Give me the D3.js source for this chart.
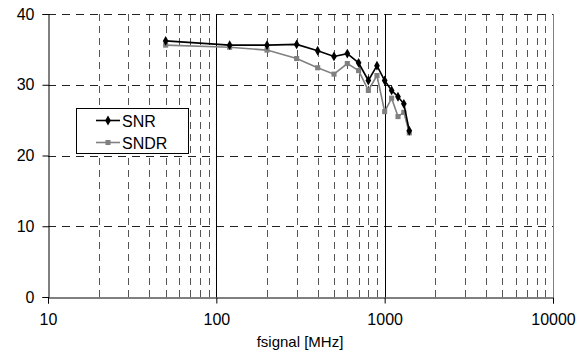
<!DOCTYPE html>
<html>
<head>
<meta charset="utf-8">
<script src="https://cdn.jsdelivr.net/npm/d3@7.9.0/dist/d3.min.js"></script>
<style>
  body { margin: 0; background: #fff; }
  svg { display: block; font-family: "Liberation Sans", Arial, sans-serif; }
</style>
</head>
<body>
<svg id="chart" width="584" height="352"></svg>
<script>
// frequencies in MHz
const freqs = [50, 120, 200, 300, 400, 500, 600, 700, 800, 900, 1000, 1100, 1200, 1300, 1400];
const snr  = [36.2, 35.6, 35.6, 35.7, 34.8, 34.0, 34.4, 33.1, 30.6, 32.7, 30.6, 29.2, 28.3, 27.3, 23.5];
const sndr = [35.6, 35.3, 34.9, 33.7, 32.4, 31.5, 33.0, 32.0, 29.2, 31.3, 26.2, 28.1, 25.5, 26.1, 23.2];
const xTicks = [10, 100, 1000, 10000];
const yTicks = [0, 10, 20, 30, 40];

const svg = d3.select('#chart');
const x = d3.scaleLog().domain([10, 10000]).range([48, 553]);
const y = d3.scaleLinear().domain([0, 40]).range([297, 14]);

// minor vertical grid (dashed)
const minor = [];
for (let dec = 10; dec < 10000; dec *= 10) {
  for (let k = 2; k <= 9; k++) minor.push(dec * k);
}
svg.append('g').selectAll('line').data(minor).join('line')
  .attr('x1', d => Math.round(x(d)) + 0.5).attr('x2', d => Math.round(x(d)) + 0.5)
  .attr('y1', y(40)).attr('y2', y(0))
  .attr('stroke', '#555').attr('stroke-dasharray', '7,5');

// horizontal grid (dashed)
svg.append('g').selectAll('line').data(yTicks.filter(d => d > 0)).join('line')
  .attr('x1', x(10)).attr('x2', x(10000))
  .attr('y1', d => Math.round(y(d)) + 0.5).attr('y2', d => Math.round(y(d)) + 0.5)
  .attr('stroke', '#222').attr('stroke-dasharray', '8,6');

// major vertical grid (solid)
svg.append('g').selectAll('line').data([100, 1000]).join('line')
  .attr('x1', d => Math.round(x(d)) + 0.5).attr('x2', d => Math.round(x(d)) + 0.5)
  .attr('y1', y(40)).attr('y2', y(0))
  .attr('stroke', '#000');

// right border
svg.append('line')
  .attr('x1', Math.round(x(10000)) + 0.5).attr('x2', Math.round(x(10000)) + 0.5)
  .attr('y1', y(40)).attr('y2', y(0))
  .attr('stroke', '#808080');

// axes
const xAxis = d3.axisBottom(x).tickValues(xTicks).tickFormat(d3.format('d')).tickSize(6).tickPadding(10);
const gx = svg.append('g').attr('transform', `translate(0,${Math.round(y(0)) + 0.5})`).call(xAxis);
const yAxis = d3.axisLeft(y).tickValues(yTicks).tickSize(6).tickPadding(8);
const gy = svg.append('g').attr('transform', `translate(${Math.round(x(10)) + 0.5},0)`).call(yAxis);
[gx, gy].forEach(g => {
  g.select('.domain').attr('stroke', '#000');
  g.selectAll('.tick line').attr('stroke', '#000');
  g.selectAll('text').attr('font-size', 16).attr('fill', '#000').attr('font-family', '"Liberation Sans", Arial, sans-serif');
});
gx.selectAll('.tick line').attr('transform', null);

svg.append('text')
  .attr('x', 300).attr('y', 347)
  .attr('text-anchor', 'middle').attr('font-size', 15)
  .text('fsignal [MHz]');

// series
const series = [
  { name: 'SNR', values: snr, color: '#000', shape: d3.symbolDiamond },
  { name: 'SNDR', values: sndr, color: '#808080', shape: d3.symbolSquare }
];
const line = d3.line().x(d => x(d[0])).y(d => y(d[1]));

series.slice().reverse().forEach(s => {
  const pts = freqs.map((f, i) => [f, s.values[i]]);
  svg.append('path').datum(pts)
    .attr('d', line).attr('fill', 'none')
    .attr('stroke', s.color).attr('stroke-width', 1.6);
  svg.append('g').selectAll('path').data(pts).join('path')
    .attr('transform', d => `translate(${x(d[0])},${y(d[1])})`)
    .attr('d', d3.symbol().type(s.shape).size(s.shape === d3.symbolSquare ? 26 : 28))
    .attr('fill', s.color);
});

// legend
const lg = svg.append('g');
lg.append('rect').attr('x', 76.5).attr('y', 108.5).attr('width', 112).attr('height', 45)
  .attr('fill', '#fff').attr('stroke', '#000');
series.forEach((s, i) => {
  const yy = 120.5 + i * 22;
  lg.append('line').attr('x1', 96).attr('x2', 120).attr('y1', yy).attr('y2', yy)
    .attr('stroke', s.color).attr('stroke-width', 1.6);
  lg.append('path').attr('transform', `translate(108,${yy})`)
    .attr('d', d3.symbol().type(s.shape).size(s.shape === d3.symbolSquare ? 26 : 28))
    .attr('fill', s.color);
  lg.append('text').attr('x', 122).attr('y', yy + 6).attr('font-size', 16).text(s.name);
});
</script>
</body>
</html>
